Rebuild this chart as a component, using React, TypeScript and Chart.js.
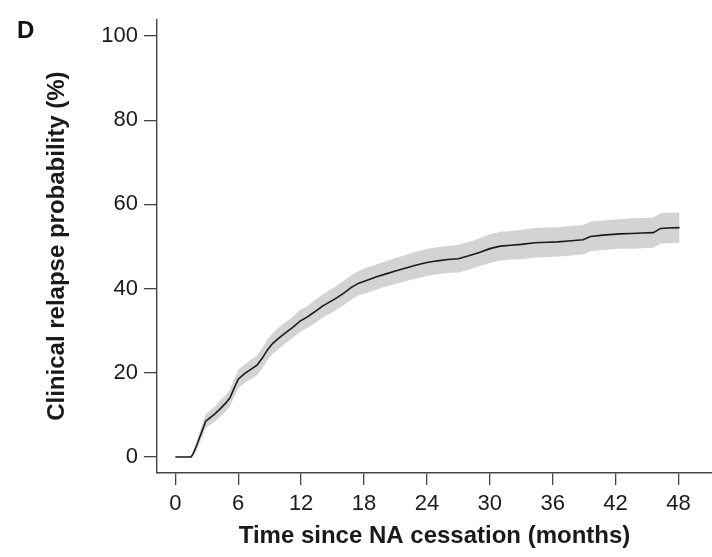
import React, { useEffect, useRef } from "react";
import { Chart, registerables } from "chart.js";

Chart.register(...registerables);

// Time since NA cessation (months)
const months = [
  0, 1.5, 1.7, 2.0, 2.3, 2.6, 2.9, 3.3, 3.8, 4.3, 4.8, 5.2, 5.6, 6.0, 6.6, 7.2, 7.8, 8.3, 8.8, 9.3, 9.9,
  10.5, 11.2, 11.9, 12.6, 13.3, 14.0, 14.7, 15.4, 16.1, 16.8, 17.5, 18.3, 19.2, 20.1, 21.0, 22.0, 23.0,
  24.0, 25.0, 26.0, 27.0, 28.0, 29.0, 30.0, 31.0, 32.0, 33.0, 34.3, 35.5, 36.5, 37.5, 38.9, 39.6, 40.8,
  42.4, 43.5, 44.5, 45.6, 46.3, 47.0, 48.1,
];
// Clinical relapse probability (%)
const estimate = [
  0, 0, 0.8, 2.5, 4.5, 6.5, 8.5, 9.3, 10.3, 11.5, 12.8, 14.0, 16.3, 18.5, 19.8, 20.8, 21.8, 23.5, 25.5, 27.0, 28.3,
  29.5, 30.8, 32.3, 33.3, 34.5, 35.8, 36.8, 37.8, 39.0, 40.3, 41.3, 42.0, 42.8, 43.5, 44.2, 44.9, 45.6,
  46.2, 46.6, 46.9, 47.1, 47.8, 48.6, 49.5, 50.1, 50.3, 50.5, 50.9, 51.0, 51.1, 51.3, 51.6, 52.4, 52.7,
  53.0, 53.1, 53.2, 53.3, 54.3, 54.4, 54.5,
];
const lowerCI = [
  0, 0, 0.2, 1.4, 3.2, 5.0, 6.9, 7.6, 8.5, 9.6, 10.8, 12.0, 14.2, 16.3, 17.6, 18.5, 19.5, 21.1, 23.1, 24.5, 25.8,
  27.0, 28.3, 29.7, 30.7, 31.8, 33.1, 34.0, 35.0, 36.1, 37.4, 38.4, 39.0, 39.8, 40.5, 41.1, 41.8, 42.4,
  43.0, 43.4, 43.7, 43.8, 44.5, 45.3, 46.1, 46.7, 46.9, 47.0, 47.4, 47.5, 47.6, 47.8, 48.1, 48.9, 49.2,
  49.5, 49.5, 49.6, 49.7, 50.7, 50.8, 50.9,
];
const upperCI = [
  0, 0, 1.4, 3.6, 5.8, 8.0, 10.1, 11.0, 12.1, 13.4, 14.8, 16.0, 18.4, 20.7, 22.0, 23.1, 24.1, 25.9, 27.9, 29.5, 30.8,
  32.0, 33.3, 34.9, 35.9, 37.2, 38.5, 39.6, 40.6, 41.9, 43.2, 44.2, 45.0, 45.8, 46.5, 47.3, 48.0, 48.8,
  49.4, 49.8, 50.1, 50.4, 51.1, 51.9, 52.9, 53.5, 53.7, 54.0, 54.4, 54.5, 54.6, 54.8, 55.1, 55.9, 56.2,
  56.5, 56.7, 56.8, 56.9, 57.9, 58.0, 58.1,
];
const xTicks = [0, 6, 12, 18, 24, 30, 36, 42, 48];
const yTicks = [0, 20, 40, 60, 80, 100];

const panelLabel = {
  id: "panelLabel",
  afterDraw(chart: any) {
    const ctx = chart.ctx;
    ctx.save();
    ctx.font = "bold 24px 'Liberation Sans', Arial, sans-serif";
    ctx.fillStyle = "#111";
    ctx.textAlign = "left";
    ctx.textBaseline = "alphabetic";
    ctx.fillText("D", 17, 38);
    ctx.restore();
  },
};

export default function App() {
  const ref = useRef<HTMLCanvasElement | null>(null);
  useEffect(() => {
    if (!ref.current) return;
    const pts = (ys: number[]) => months.map((m, i) => ({ x: m, y: ys[i] }));
    const chart = new Chart(ref.current, {
      type: "line",
      data: {
        datasets: [
          {
            data: pts(upperCI),
            borderWidth: 0,
            borderColor: "rgba(0,0,0,0)",
            pointRadius: 0,
            fill: false,
            order: 2,
          },
          {
            data: pts(lowerCI),
            borderWidth: 0,
            borderColor: "rgba(0,0,0,0)",
            backgroundColor: "#d3d3d3",
            pointRadius: 0,
            fill: "-1",
            order: 2,
          },
          {
            data: pts(estimate),
            borderWidth: 1.6,
            borderColor: "#1a1a1a",
            pointRadius: 0,
            fill: false,
            order: 0,
          },
        ],
      },
      options: {
        animation: false,
        responsive: false,
        layout: { padding: { left: 0, right: 0, top: 10, bottom: 0 } },
        plugins: { legend: { display: false }, tooltip: { enabled: false } },
        scales: {
          x: {
            type: "linear",
            min: -1.75,
            max: 51.2,
            afterBuildTicks: (s: any) => {
              s.ticks = xTicks.map((v) => ({ value: v }));
            },
            afterFit: (s: any) => {
              s.height = 84;
            },
            grid: { drawOnChartArea: false, drawTicks: true, tickLength: 12, color: "#444", lineWidth: 1.3 },
            border: { display: true, color: "#444", width: 1.4 },
            ticks: {
              padding: 6,
              color: "#1a1a1a",
              maxRotation: 0,
              font: { family: "'Liberation Sans', Arial, sans-serif", size: 22 },
              callback: (v: any) => String(v),
            },
            title: {
              display: true,
              text: "Time since NA cessation (months)",
              color: "#1a1a1a",
              font: { family: "'Liberation Sans', Arial, sans-serif", size: 24, weight: "bold" },
              padding: { top: 0, bottom: 6 },
            },
          },
          y: {
            type: "linear",
            min: -3.8,
            max: 104,
            afterBuildTicks: (s: any) => {
              s.ticks = yTicks.map((v) => ({ value: v }));
            },
            afterFit: (s: any) => {
              s.width = 157;
            },
            grid: { drawOnChartArea: false, drawTicks: true, tickLength: 13, color: "#444", lineWidth: 1.3 },
            border: { display: true, color: "#444", width: 1.4 },
            ticks: {
              padding: 6,
              color: "#1a1a1a",
              font: { family: "'Liberation Sans', Arial, sans-serif", size: 22 },
              callback: (v: any) => String(v),
            },
            title: {
              display: true,
              text: "Clinical relapse probability (%)",
              color: "#1a1a1a",
              font: { family: "'Liberation Sans', Arial, sans-serif", size: 24, weight: "bold" },
              padding: { top: 43, bottom: 0 },
            },
          },
        },
      },
      plugins: [panelLabel],
    } as any);
    return () => chart.destroy();
  }, []);
  return (
    <div style={{ position: "fixed", left: 0, top: 0, width: 712, height: 557, background: "#fff" }}>
      <canvas ref={ref} width={712} height={557} style={{ display: "block" }} />
    </div>
  );
}
